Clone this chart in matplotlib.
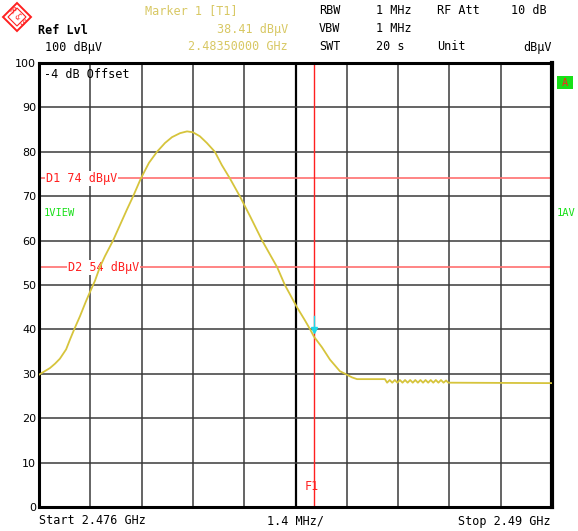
import matplotlib
matplotlib.use("Agg")
import matplotlib.pyplot as plt
from matplotlib.patches import Polygon, Rectangle
import numpy as np

# Sweep settings
f_start = 2.476      # GHz
f_stop = 2.490       # GHz
f_div = 0.0014       # GHz per division
ref_level = 100      # dBuV
y_ticks = [0, 10, 20, 30, 40, 50, 60, 70, 80, 90, 100]

# Measured trace (frequency in GHz, level in dBuV)
freq_ghz = [2.47600, 2.47616, 2.47630, 2.47644, 2.47657, 2.47674, 2.47685,
            2.47696, 2.47712, 2.47728, 2.47739, 2.47753, 2.47766, 2.47780,
            2.47802, 2.47821, 2.47840, 2.47857, 2.47878, 2.47900, 2.47922,
            2.47944, 2.47963, 2.47985, 2.48004, 2.48020, 2.48039, 2.48058,
            2.48080, 2.48099, 2.48121, 2.48148, 2.48176, 2.48209, 2.48250,
            2.48271, 2.48304, 2.48326, 2.48340, 2.48350, 2.48372, 2.48394,
            2.48421, 2.48440, 2.48454, 2.48468, 2.48544,
            2.48550, 2.48557, 2.48564, 2.48571, 2.48578, 2.48585, 2.48592,
            2.48599, 2.48606, 2.48613, 2.48620, 2.48627, 2.48634, 2.48641,
            2.48648, 2.48655, 2.48662, 2.48669, 2.48676, 2.48683, 2.48690,
            2.48697, 2.48704, 2.48711, 2.48717, 2.49000]
level_dbuv = [29.8, 30.6, 31.3, 32.3, 33.4, 35.5, 37.8,
              40.0, 43.0, 46.3, 48.4, 51.0, 54.0, 56.5,
              60.0, 63.5, 67.0, 70.0, 74.0, 77.5, 80.0,
              82.0, 83.3, 84.2, 84.6, 84.4, 83.5, 82.0,
              80.0, 77.0, 74.0, 70.0, 65.5, 60.0, 54.0,
              50.0, 45.0, 42.0, 40.0, 38.41, 36.0, 33.2,
              30.6, 29.8, 29.2, 28.8, 28.8,
              28.0, 28.6, 28.0, 28.6, 28.0, 28.6, 28.0,
              28.6, 28.0, 28.6, 28.0, 28.6, 28.0, 28.6,
              28.0, 28.6, 28.0, 28.6, 28.0, 28.6, 28.0,
              28.6, 28.0, 28.5, 28.0, 27.9]

# Marker and display lines
marker_freq = 2.4835
marker_level = 38.41
d1_level = 74
d2_level = 54

TRACE = "#d6c43c"
MTEXT = "#d8c864"
RED = "#ff2020"
DLINE = "#ff7070"
GREEN = "#18e018"
MONO = "DejaVu Sans Mono"
FS = 8.5

W, H = 578, 531
fig = plt.figure(figsize=(W / 100, H / 100), dpi=100)
fig.patch.set_facecolor("white")

x0, x1, ytop, ybot = 39, 552, 63, 507
ax = fig.add_axes([x0 / W, 1 - ybot / H, (x1 - x0) / W, (ybot - ytop) / H])
ax.set_xlim(f_start, f_stop)
ax.set_ylim(0, ref_level)

# Graticule
xg = np.linspace(f_start, f_stop, 11)
for i, xv in enumerate(xg[1:-1], start=1):
    if i == 5:
        ax.axvline(xv, color="black", lw=1.6, zorder=1)
    else:
        ax.axvline(xv, color="#3a3a3a", lw=1.1, zorder=1)
for yv in y_ticks[1:-1]:
    ax.axhline(yv, color="#3a3a3a", lw=1.1, zorder=1)

ax.set_xticks([])
ax.set_yticks(y_ticks)
ax.set_yticklabels([str(v) for v in y_ticks], fontsize=8, family="DejaVu Sans")
ax.tick_params(axis="y", length=0, pad=2)
for side, lw in (("left", 2.2), ("bottom", 2.2), ("top", 2.2), ("right", 3.0)):
    ax.spines[side].set_linewidth(lw)
    ax.spines[side].set_color("black")

# Display lines with labels
ax.axhline(d1_level, color=DLINE, lw=1.2, zorder=2)
ax.axhline(d2_level, color=DLINE, lw=1.2, zorder=2)
ax.text(2.47619, d1_level, "D1 74 dBµV", color=RED, fontsize=FS, family=MONO,
        va="center", ha="left", zorder=3,
        bbox=dict(facecolor="white", edgecolor="none", pad=0.6))
ax.text(2.47679, d2_level, "D2 54 dBµV", color=RED, fontsize=FS, family=MONO,
        va="center", ha="left", zorder=3,
        bbox=dict(facecolor="white", edgecolor="none", pad=0.6))

# Frequency line F1
ax.axvline(marker_freq, color=RED, lw=1.0, zorder=2)

# Trace
ax.plot(freq_ghz, level_dbuv, color=TRACE, lw=1.3, zorder=4)

# Marker symbol
ax.plot([marker_freq, marker_freq], [marker_level + 1.5, marker_level + 4.5],
        color="#20d8e8", lw=1.0, zorder=5)
ax.plot([marker_freq], [marker_level + 1.5], marker="v", color="#20d8e8",
        markersize=4.5, zorder=5, linestyle="none")

def ftext(x, y, s, **kw):
    kw.setdefault("family", MONO)
    kw.setdefault("fontsize", FS)
    kw.setdefault("va", "center")
    fig.text(x / W, 1 - y / H, s, **kw)

# Header
ftext(38, 30, "Ref Lvl", color="black", fontweight="bold")
ftext(45, 47, "100 dBµV", color="black")
ftext(145, 11, "Marker 1 [T1]", color=MTEXT)
ftext(288, 29, "38.41 dBµV", color=MTEXT, ha="right")
ftext(288, 47, "2.48350000 GHz", color=MTEXT, ha="right")
ftext(319, 11, "RBW", color="black")
ftext(376, 11, "1 MHz", color="black")
ftext(437, 11, "RF Att", color="black")
ftext(511, 11, "10 dB", color="black")
ftext(319, 29, "VBW", color="black")
ftext(376, 29, "1 MHz", color="black")
ftext(319, 47, "SWT", color="black")
ftext(376, 47, "20 s", color="black")
ftext(437, 47, "Unit", color="black")
ftext(552, 47, "dBµV", color="black", ha="right")

# Inside-screen annotations
ftext(44, 74, "-4 dB Offset", color="black")
ftext(44, 213, "1VIEW", color=GREEN, fontsize=7.5)
ftext(557, 213, "1AV", color=GREEN, fontsize=7.5)
ftext(305, 487, "F1", color=RED)

# Footer
ftext(39, 521, "Start 2.476 GHz", color="black")
ftext(267, 521, "1.4 MHz/", color="black")
ftext(551, 521, "Stop 2.49 GHz", color="black", ha="right")

# Trace status box
fig.patches.append(Rectangle((557 / W, 1 - 89 / H), 16 / W, 13 / H,
                             transform=fig.transFigure, facecolor=GREEN,
                             edgecolor="none"))
ftext(565, 83, "A", color=RED, ha="center", fontsize=7.5)

# Logo
cx, cy, r = 17, 17, 14
outer = [(cx, cy - r), (cx + r, cy), (cx, cy + r), (cx - r, cy)]
fig.patches.append(Polygon([(px / W, 1 - py / H) for px, py in outer],
                           closed=True, transform=fig.transFigure,
                           facecolor="white", edgecolor=RED, lw=1.4))
r2 = 9
inner = [(cx, cy - r2), (cx + r2, cy), (cx, cy + r2), (cx - r2, cy)]
fig.patches.append(Polygon([(px / W, 1 - py / H) for px, py in inner],
                           closed=True, transform=fig.transFigure,
                           facecolor="none", edgecolor=RED, lw=0.8))
ftext(12, 11, "R", color=RED, fontsize=5.5, ha="center", rotation=-45)
ftext(17, 17, "&", color=RED, fontsize=5.5, ha="center", rotation=-45)
ftext(22, 23, "S", color=RED, fontsize=5.5, ha="center", rotation=-45)

fig.savefig("out.png", dpi=100)
